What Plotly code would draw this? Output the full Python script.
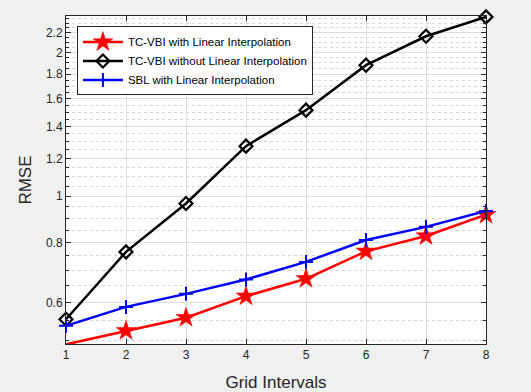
import plotly.graph_objects as go

grid_intervals = [1, 2, 3, 4, 5, 6, 7, 8]
tcvbi_li = [0.490, 0.523, 0.557, 0.618, 0.672, 0.767, 0.826, 0.915]
tcvbi_noli = [0.553, 0.765, 0.966, 1.273, 1.514, 1.880, 2.161, 2.372]
sbl_li = [0.536, 0.587, 0.625, 0.670, 0.729, 0.810, 0.863, 0.932]

y_ticks = [0.6, 0.8, 1, 1.2, 1.4, 1.6, 1.8, 2, 2.2]
y_ticklabels = ["0.6", "0.8", "1", "1.2", "1.4", "1.6", "1.8", "2", "2.2"]
y_minor = [0.5, 0.55, 0.65, 0.7, 0.75, 0.85, 0.9, 0.95, 1.05, 1.1, 1.15,
           1.25, 1.3, 1.35, 1.45, 1.5, 1.55, 1.65, 1.7, 1.75, 1.85, 1.9,
           1.95, 2.05, 2.1, 2.15, 2.25, 2.3, 2.35]

FONT = "Liberation Sans, Arial, sans-serif"
AX = "#262626"

fig = go.Figure()
fig.add_trace(go.Scatter(
    x=grid_intervals, y=tcvbi_li, mode="lines+markers",
    name="TC-VBI with Linear Interpolation",
    line=dict(color="#ff0000", width=2.5),
    marker=dict(symbol="star", size=15, color="#ff0000",
                line=dict(color="#ff0000", width=0.5)),
    cliponaxis=False))
fig.add_trace(go.Scatter(
    x=grid_intervals, y=tcvbi_noli, mode="lines+markers",
    name="TC-VBI without Linear Interpolation",
    line=dict(color="black", width=2.5),
    marker=dict(symbol="diamond-open", size=10, color="black",
                line=dict(color="black", width=2.2)),
    cliponaxis=False))
fig.add_trace(go.Scatter(
    x=grid_intervals, y=sbl_li, mode="lines+markers",
    name="SBL with Linear Interpolation",
    line=dict(color="#0000ff", width=2.5),
    marker=dict(symbol="cross-thin", size=10, color="#0000ff",
                line=dict(color="#0000ff", width=2)),
    cliponaxis=False))

fig.update_layout(
    width=531, height=392,
    margin=dict(l=66, r=45, t=16, b=48),
    paper_bgcolor="#f0f0f0", plot_bgcolor="white",
    font=dict(family=FONT, color=AX, size=12),
    showlegend=True,
    legend=dict(x=0.026, y=0.968, xanchor="left", yanchor="top",
                bgcolor="white", bordercolor="#262626", borderwidth=1,
                font=dict(family=FONT, size=11.5, color="black"),
                tracegroupgap=0, itemwidth=40),
)
fig.update_xaxes(
    range=[1, 8], tickvals=grid_intervals, automargin=False,
    showline=True, linecolor=AX, linewidth=1, mirror="allticks",
    ticks="inside", ticklen=5, tickcolor=AX,
    showgrid=True, gridcolor="#dcdcdc", gridwidth=1, zeroline=False,
    tickfont=dict(size=12, color=AX, family=FONT),
    title=dict(text="Grid Intervals", font=dict(size=17, color=AX, family=FONT)),
)
fig.update_yaxes(
    type="log", range=[-0.309, 0.377], automargin=True,
    tickvals=y_ticks, ticktext=y_ticklabels,
    showline=True, linecolor=AX, linewidth=1, mirror="allticks",
    ticks="inside", ticklen=5, tickcolor=AX,
    showgrid=True, gridcolor="#dcdcdc", gridwidth=1, zeroline=False,
    tickfont=dict(size=12, color=AX, family=FONT),
    title=dict(text="RMSE", font=dict(size=17, color=AX, family=FONT), standoff=9),
    minor=dict(tickvals=y_minor, ticks="inside", ticklen=3, tickcolor=AX,
               showgrid=True, gridcolor="#d6d6d6", griddash="dot", gridwidth=1),
)

fig.write_html("out.html", config={"displayModeBar": False},
               post_script="document.body.style.margin='0';document.body.style.padding='0';")
